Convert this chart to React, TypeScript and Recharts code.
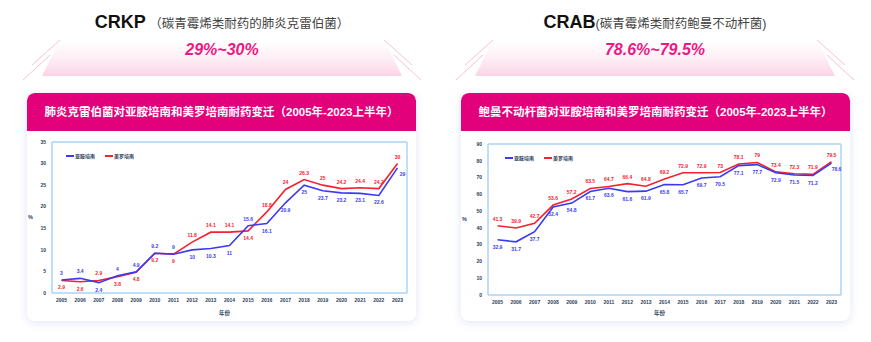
import React from 'react';
import { LineChart, Line, XAxis, YAxis, Label, CartesianGrid } from 'recharts';

const years = ['2005', '2006', '2007', '2008', '2009', '2010', '2011', '2012', '2013', '2014', '2015', '2016', '2017', '2018', '2019', '2020', '2021', '2022', '2023'];
const seriesNames = ['亚胺培南', '美罗培南'];

const crkpImipenem = [3, 3.4, 2.4, 4, 4.9, 9.2, 9, 10, 10.3, 11, 15.6, 16.1, 20.9, 25, 23.7, 23.2, 23.1, 22.6, 29];
const crkpMeropenem = [2.9, 2.6, 2.9, 3.8, 4.8, 9.2, 9, 11.8, 14.1, 14.1, 14.4, 18.8, 24, 26.3, 25, 24.2, 24.4, 24.2, 30];
const crabImipenem = [32.9, 31.7, 37.7, 52.4, 54.8, 61.7, 63.6, 61.6, 61.9, 65.8, 65.7, 69.7, 70.5, 77.1, 77.7, 72.9, 71.5, 71.2, 78.6];
const crabMeropenem = [41.3, 39.9, 42.7, 53.6, 57.2, 63.5, 64.7, 66.4, 64.8, 69.2, 72.9, 72.9, 73, 78.1, 79, 73.4, 72.3, 71.9, 79.5];

const crkpTicks = [0, 5, 10, 15, 20, 25, 30, 35];
const crabTicks = [0, 10, 20, 30, 40, 50, 60, 70, 80, 90];

const BLUE = '#3a3af5';
const RED = '#f5212f';
const PINK = '#e3007b';
const AXIS = '#a9d5f5';
const TICK = '#2b3d5c';
const FONT = '"Liberation Sans", Arial, "Noto Sans CJK SC", sans-serif';

const makeRows = (a: number[], b: number[]) => years.map((y, i) => ({ year: y, imi: a[i], mero: b[i] }));

const makeLabel = (color: string, own: number[], other: number[], isBlue: boolean) => (props: any) => {
  const index = props.index;
  const x = props.x ?? props.viewBox?.x;
  const y = props.y ?? props.viewBox?.y;
  if (x == null || y == null) return null;
  const above = isBlue ? own[index] >= other[index] : own[index] > other[index];
  const last = index === own.length - 1;
  let dx = 0;
  let dy = above ? -7 : 7;
  if (last && !above) { dx = 5; dy = 6; }
  return (
    <text key={`l-${index}`} x={x + dx} y={y + dy} textAnchor="middle" dominantBaseline="central"
      fontSize={5} fontWeight={700} fill={color} fontFamily={FONT}>
      {own[index]}
    </text>
  );
};

function Panel(props: {
  left: number; imi: number[]; mero: number[]; ticks: number[]; max: number;
  title: string; yAxisWidth: number; marginTop: number; xAxisHeight: number;
  legendLeft: number; legendTop: number;
}) {
  const { left, imi, mero, ticks, max, title, yAxisWidth, marginTop, xAxisHeight, legendLeft, legendTop } = props;
  const data = makeRows(imi, mero);
  const tickStyle = { fontSize: 5, fill: TICK, fontWeight: 700, fontFamily: FONT };
  return (
    <div style={{ position: 'absolute', left, top: 93, width: 389, height: 228, background: '#fff', borderRadius: 8, boxShadow: '0 2px 10px rgba(110,130,220,0.20)', overflow: 'hidden' }}>
      <div style={{ position: 'absolute', left: 0, top: 0, width: 389, height: 38, background: PINK, color: '#fff', fontWeight: 700, fontSize: 11.5, lineHeight: '38px', textAlign: 'center', fontFamily: FONT, borderRadius: '7px 7px 0 0', whiteSpace: 'nowrap' }}>
        {title}
      </div>
      <div style={{ position: 'absolute', left: 0, top: 38 }}>
        <LineChart width={389} height={190} data={data} margin={{ top: marginTop, right: 9, left: 0, bottom: 0 }}>
          <CartesianGrid stroke={AXIS} strokeWidth={1.5}
            horizontalCoordinatesGenerator={(p: any) => [p.offset.top]}
            verticalCoordinatesGenerator={(p: any) => [p.offset.left + p.offset.width]} />
          <XAxis dataKey="year" height={xAxisHeight} padding={{ left: 9.5, right: 9.5 }} tick={tickStyle}
            tickLine={false} tickSize={3} tickMargin={2} interval={0} axisLine={{ stroke: AXIS, strokeWidth: 1.5 }}>
            <Label value="年份" position="insideBottom" offset={6} dx={-5} style={{ fontSize: 5.5, fill: TICK, fontWeight: 700, fontFamily: FONT }} />
          </XAxis>
          <YAxis width={yAxisWidth} domain={[0, max]} ticks={ticks} interval={0} tick={tickStyle}
            tickLine={false} tickSize={4} tickMargin={2} axisLine={{ stroke: AXIS, strokeWidth: 1.5 }}>
            <Label value="%" position="insideLeft" offset={1} style={{ fontSize: 5.5, fill: TICK, fontWeight: 700, fontFamily: FONT }} />
          </YAxis>
          <Line type="linear" dataKey="mero" name={seriesNames[1]} stroke={RED} strokeWidth={1.6} dot={false} isAnimationActive={false}
            label={makeLabel(RED, mero, imi, false)} />
          <Line type="linear" dataKey="imi" name={seriesNames[0]} stroke={BLUE} strokeWidth={1.6} dot={false} isAnimationActive={false}
            label={makeLabel(BLUE, imi, mero, true)} />
        </LineChart>
      </div>
      <div style={{ position: 'absolute', left: legendLeft, top: legendTop, display: 'flex', alignItems: 'center', fontFamily: FONT, fontSize: 5, color: TICK, fontWeight: 700, lineHeight: '6px' }}>
        <span style={{ display: 'inline-block', width: 8, height: 1.6, background: BLUE, marginRight: 1 }} />
        <span style={{ marginRight: 10 }}>{seriesNames[0]}</span>
        <span style={{ display: 'inline-block', width: 8, height: 1.6, background: RED, marginRight: 1 }} />
        <span>{seriesNames[1]}</span>
      </div>
    </div>
  );
}

function Header(props: { cx: number; code: string; sub: string; range: string; gid: string }) {
  const { cx, code, sub, range, gid } = props;
  const ox = cx - 222;
  return (
    <>
      <svg style={{ position: 'absolute', left: 0, top: 0 }} width={871} height={92}>
        <defs>
          <linearGradient id={gid} x1="0" y1="0" x2="0" y2="1">
            <stop offset="0" stopColor="#fde6f0" stopOpacity="0" />
            <stop offset="1" stopColor="#fbd3e5" stopOpacity="1" />
          </linearGradient>
        </defs>
        <polygon points={`${ox + 60},40 ${ox + 384},40 ${ox + 402},76 ${ox + 42},76`} fill={`url(#${gid})`} />
        <line x1={ox + 60} y1={40} x2={ox + 32} y2={65} stroke="#f6b0cd" strokeWidth={0.8} />
        <line x1={ox + 50} y1={55} x2={ox + 23} y2={80} stroke="#f6b0cd" strokeWidth={0.8} />
        <line x1={ox + 384} y1={40} x2={ox + 412} y2={65} stroke="#f6b0cd" strokeWidth={0.8} />
        <line x1={ox + 394} y1={55} x2={ox + 421} y2={80} stroke="#f6b0cd" strokeWidth={0.8} />
      </svg>
      <div style={{ position: 'absolute', left: cx - 200, top: 10, width: 400, textAlign: 'center', fontFamily: FONT, whiteSpace: 'nowrap', lineHeight: '24px' }}>
        <span style={{ fontSize: 18, fontWeight: 700, color: '#111' }}>{code}</span>
        <span style={{ fontSize: 12.5, color: '#444' }}>{sub}</span>
      </div>
      <div style={{ position: 'absolute', left: cx - 200, top: 40, width: 400, textAlign: 'center', fontFamily: FONT, fontSize: 16, fontWeight: 700, fontStyle: 'italic', color: '#ea1a82', lineHeight: '20px' }}>
        {range}
      </div>
    </>
  );
}

export default function App() {
  return (
    <div style={{ position: 'absolute', left: 0, top: 0, width: 871, height: 342, background: '#fff', overflow: 'hidden' }}>
      <Header cx={222} code="CRKP" sub=" （碳青霉烯类耐药的肺炎克雷伯菌）" range="29%~30%" gid="g1" />
      <Header cx={655} code="CRAB" sub="(碳青霉烯类耐药鲍曼不动杆菌)" range="78.6%~79.5%" gid="g2" />
      <Panel left={27} imi={crkpImipenem} mero={crkpMeropenem} ticks={crkpTicks} max={35}
        title="肺炎克雷伯菌对亚胺培南和美罗培南耐药变迁（2005年-2023上半年）"
        yAxisWidth={25} marginTop={11} xAxisHeight={28} legendLeft={39} legendTop={60} />
      <Panel left={461} imi={crabImipenem} mero={crabMeropenem} ticks={crabTicks} max={90}
        title="鲍曼不动杆菌对亚胺培南和美罗培南耐药变迁（2005年-2023上半年）"
        yAxisWidth={27} marginTop={13} xAxisHeight={26} legendLeft={44} legendTop={62} />
    </div>
  );
}
